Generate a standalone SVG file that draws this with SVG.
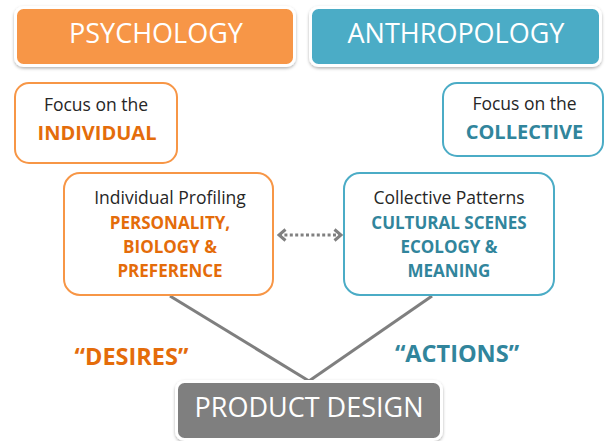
<svg xmlns="http://www.w3.org/2000/svg" width="608" height="441" viewBox="0 0 608 441">
  <defs>
    <filter id="soft" x="-10%" y="-20%" width="120%" height="150%">
      <feDropShadow dx="0" dy="1.5" stdDeviation="1.5" flood-color="#000" flood-opacity="0.3"/>
    </filter>
    <marker id="chev" viewBox="0 0 10 14" refX="8" refY="7" markerWidth="10" markerHeight="14" markerUnits="userSpaceOnUse" orient="auto-start-reverse">
      <path d="M1.5,1.5 L8,7 L1.5,12.5" fill="none" stroke="#808080" stroke-width="3"/>
    </marker>
  </defs>
  <style>
    text { font-family: "Open Sans", "Liberation Sans", sans-serif; text-anchor: middle; }
    .title { font-size: 27px; fill: #fff; }
    .plain { font-size: 17.5px; fill: #262626; }
    .bold { font-weight: bold; }
    .or { fill: #E46C0A; }
    .te { fill: #31859C; }
    .obox { fill: #fff; stroke: #F79646; stroke-width: 2; }
    .tbox { fill: #fff; stroke: #4BACC6; stroke-width: 2; }
    .banner { stroke: #fff; stroke-width: 3; filter: url(#soft); }
    .link { stroke: #7F7F7F; stroke-width: 3; fill: none; }
  </style>

  <rect width="608" height="441" fill="#fff"/>

  <!-- connectors -->
  <g id="connectors">
    <line class="link" x1="170" y1="296" x2="309" y2="381"/>
    <line class="link" x1="432" y1="296" x2="309" y2="381"/>
    <line x1="279" y1="235" x2="341" y2="235" stroke="#808080" stroke-width="3" stroke-dasharray="3 2.4" marker-start="url(#chev)" marker-end="url(#chev)"/>
  </g>

  <g id="psychology">
    <rect class="banner" x="15.5" y="7.5" width="279" height="58" rx="8" fill="#F79646"/>
    <text class="title" x="156" y="43">PSYCHOLOGY</text>
  </g>

  <g id="anthropology">
    <rect class="banner" x="310.5" y="7.5" width="290" height="58" rx="8" fill="#4BACC6"/>
    <text class="title" x="456" y="43">ANTHROPOLOGY</text>
  </g>

  <g id="focus-individual">
    <rect class="obox" x="15" y="83" width="162" height="80" rx="14"/>
    <text class="plain" x="96" y="111">Focus on the</text>
    <text class="bold or" x="97" y="140" font-size="20">INDIVIDUAL</text>
  </g>

  <g id="focus-collective">
    <rect class="tbox" x="443" y="83" width="160" height="73" rx="14"/>
    <text class="plain" x="524.5" y="110">Focus on the</text>
    <text class="bold te" x="524.5" y="139" font-size="20">COLLECTIVE</text>
  </g>

  <g id="individual-profiling">
    <rect class="obox" x="64" y="173" width="209" height="122" rx="16"/>
    <text class="plain" x="170" y="204">Individual Profiling</text>
    <text class="bold or" x="170" y="229" font-size="17">PERSONALITY,</text>
    <text class="bold or" x="170" y="253" font-size="17">BIOLOGY &amp;</text>
    <text class="bold or" x="170" y="277" font-size="17">PREFERENCE</text>
  </g>

  <g id="collective-patterns">
    <rect class="tbox" x="344" y="173" width="210" height="122" rx="16"/>
    <text class="plain" x="449" y="204">Collective Patterns</text>
    <text class="bold te" x="449" y="229" font-size="17">CULTURAL SCENES</text>
    <text class="bold te" x="449" y="253" font-size="17">ECOLOGY &amp;</text>
    <text class="bold te" x="449" y="277" font-size="17">MEANING</text>
  </g>

  <g id="desires">
    <text class="bold or" x="131.5" y="365" font-size="23.5">“DESIRES”</text>
  </g>

  <g id="actions">
    <text class="bold te" x="457" y="362" font-size="23.5">“ACTIONS”</text>
  </g>

  <g id="product-design">
    <rect class="banner" x="176.5" y="381.5" width="265" height="58" rx="8" fill="#7F7F7F"/>
    <text class="title" x="309" y="417" font-size="28">PRODUCT DESIGN</text>
  </g>
</svg>
